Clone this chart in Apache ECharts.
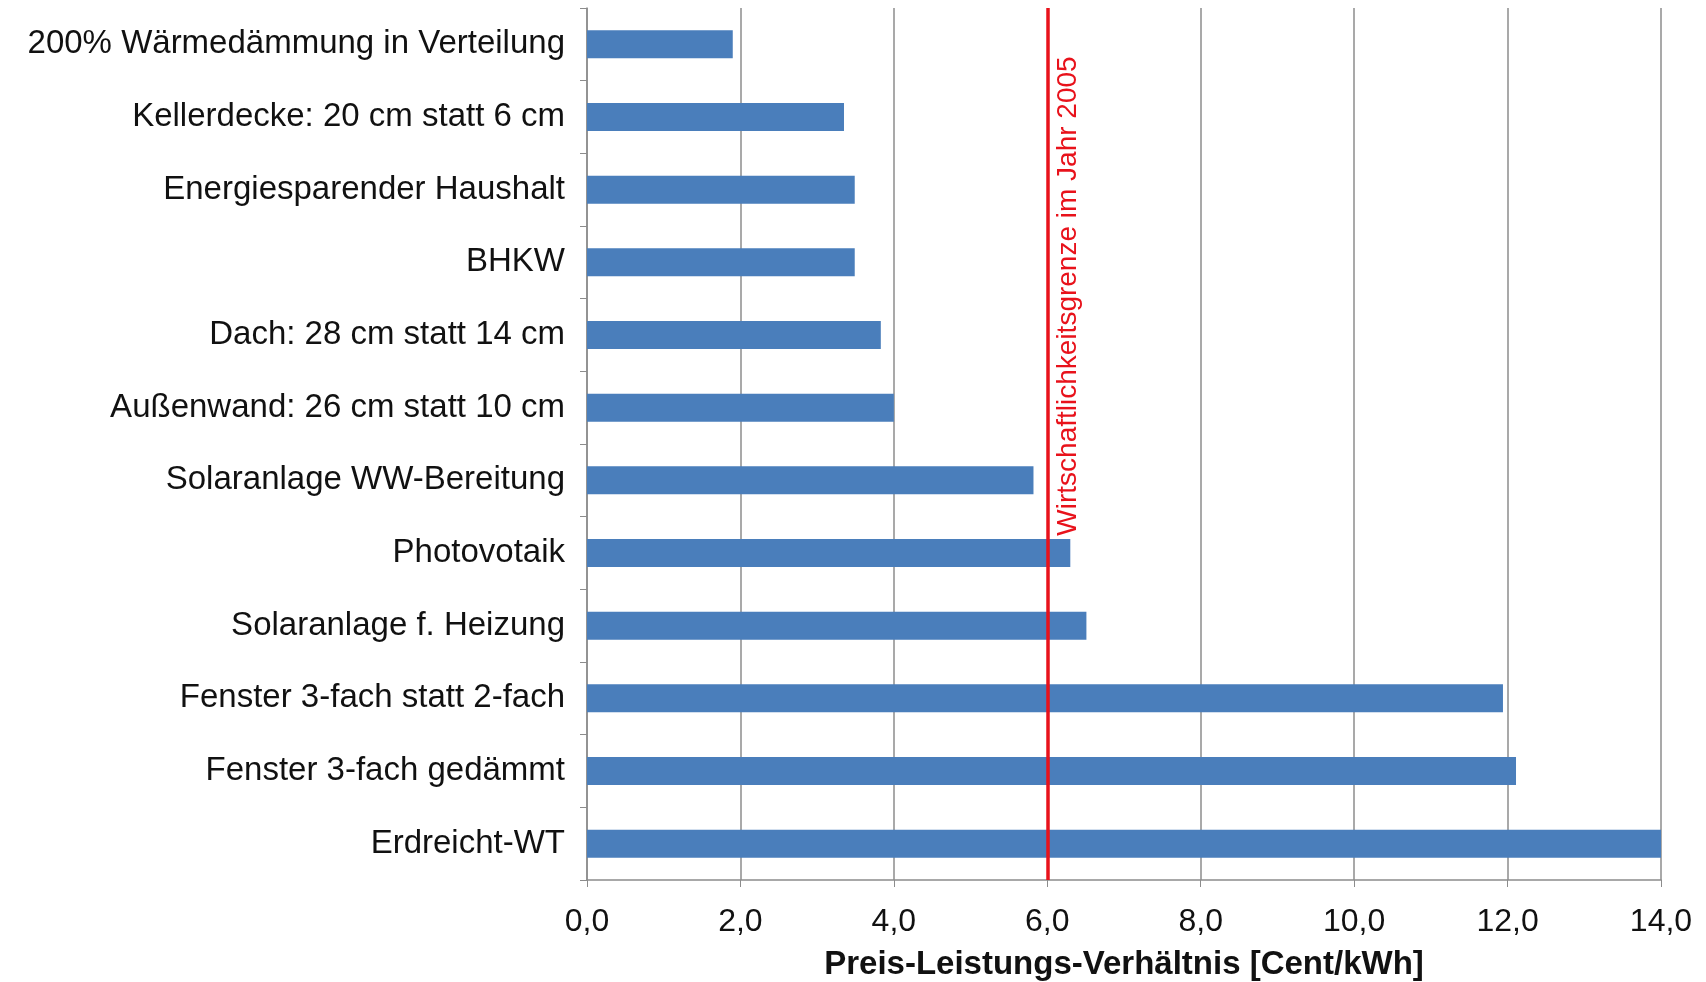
<!DOCTYPE html>
<html>
<head>
<meta charset="utf-8">
<script src="https://cdn.jsdelivr.net/npm/echarts@6/dist/echarts.min.js"></script>
<style>
html,body{margin:0;padding:0;background:#fff;}
#chart{width:1706px;height:982px;}
</style>
</head>
<body>
<div id="chart"></div>
<script>
const categories = [
  "200% Wärmedämmung in Verteilung",
  "Kellerdecke: 20 cm statt 6 cm",
  "Energiesparender Haushalt",
  "BHKW",
  "Dach: 28 cm statt 14 cm",
  "Außenwand: 26 cm statt 10 cm",
  "Solaranlage WW-Bereitung",
  "Photovotaik",
  "Solaranlage f. Heizung",
  "Fenster 3-fach statt 2-fach",
  "Fenster 3-fach gedämmt",
  "Erdreicht-WT"
];
const values = [1.9, 3.35, 3.49, 3.49, 3.83, 4.0, 5.82, 6.3, 6.51, 11.94, 12.11, 14.0];
const thresholdValue = 6.0;
const thresholdLabel = "Wirtschaftlichkeitsgrenze im Jahr 2005";
const xAxisTitle = "Preis-Leistungs-Verhältnis [Cent/kWh]";

const chart = echarts.init(document.getElementById('chart'), null, {renderer: 'canvas'});
chart.setOption({
  animation: false,
  backgroundColor: '#ffffff',
  grid: {left: 587, right: 45, top: 8, bottom: 102, containLabel: false, outerBoundsMode: 'none'},
  xAxis: {
    type: 'value',
    min: 0, max: 14, interval: 2,
    name: xAxisTitle,
    nameLocation: 'middle',
    nameGap: 68,
    nameTextStyle: {fontFamily: 'Liberation Sans', fontWeight: 'bold', fontSize: 33, color: '#111'},
    axisLine: {show: true, lineStyle: {color: '#8c8c8c', width: 1.5}},
    axisTick: {show: true, length: 7, lineStyle: {color: '#8c8c8c'}},
    axisLabel: {fontFamily: 'Liberation Sans', fontSize: 32, color: '#111', margin: 26,
      formatter: v => v.toFixed(1).replace('.', ',')},
    splitLine: {show: true, lineStyle: {color: '#8c8c8c', width: 1.5}}
  },
  yAxis: {
    type: 'category',
    data: categories,
    inverse: true,
    axisLine: {show: true, lineStyle: {color: '#8c8c8c', width: 1.5}},
    axisTick: {show: true, length: 7, lineStyle: {color: '#8c8c8c'}},
    axisLabel: {fontFamily: 'Liberation Sans', fontSize: 33, color: '#111', margin: 22},
    splitLine: {show: false}
  },
  series: [{
    type: 'bar',
    data: values,
    barWidth: 28,
    itemStyle: {color: '#4a7ebb'},
    markLine: {
      silent: true,
      symbol: ['none', 'none'],
      lineStyle: {color: '#e8121b', width: 3.5, type: 'solid'},
      label: {show: false},
      data: [{xAxis: thresholdValue}]
    },
    markPoint: {
      silent: true,
      symbol: 'circle',
      symbolSize: 0,
      label: {
        show: true,
        formatter: thresholdLabel,
        position: 'inside',
        rotate: 90,
        offset: [39, 21],
        color: '#e8121b',
        fontFamily: 'Liberation Sans',
        fontSize: 28
      },
      data: [{coord: [thresholdValue, categories[4]]}]
    }
  }]
});
</script>
</body>
</html>
